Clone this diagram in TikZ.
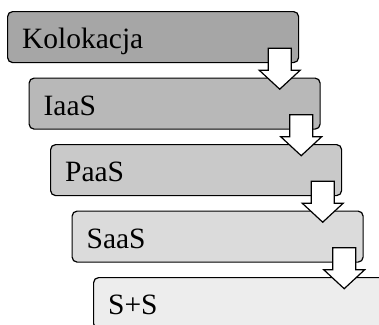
\documentclass[tikz,border=0pt]{standalone}
\usepackage{fontspec}
\setmainfont{Liberation Serif}
\usepackage{xcolor}
\usepackage{tikz}
\usetikzlibrary{positioning}

\tikzset{
    layer/.style={draw, rectangle, rounded corners=5pt, line width=1.2pt,
        anchor=north west, minimum width=291pt, minimum height=51pt,
        text width=262pt, align=left, inner xsep=14.5pt, inner ysep=0pt,
        text height=23pt, text depth=0pt,
        font=\fontsize{29.5}{32}\selectfont},
    blockarrow/.style={draw, fill=white, line width=1.2pt, line join=miter}
}

\begin{document}
\begin{tikzpicture}[x=1pt, y=-1pt]
    \useasboundingbox (0,0) rectangle (379,324);
    \clip (0,0) rectangle (379,324);

    % Layers
    \node[layer, fill=black!35] (kol) at (7, 11) {Kolokacja};
    \node[layer, fill=black!28] (iaas) at (28.5, 77.5) {IaaS};
    \node[layer, fill=black!21] (paas) at (50, 144) {PaaS};
    \node[layer, fill=black!14] (saas) at (71.5, 210.5) {SaaS};
    \node[layer, fill=black!7] (ss) at (93, 277) {S+S};

    % Arrows
    \foreach \from in {kol, iaas, paas, saas}
        \draw[blockarrow] ([xshift=-8pt, yshift=15pt]\from.south east)
            -- ++(0,22) -- ++(9,0) -- ++(-20.5,19) -- ++(-20.5,-19)
            -- ++(9,0) -- ++(0,-22) -- cycle;
\end{tikzpicture}
\end{document}
